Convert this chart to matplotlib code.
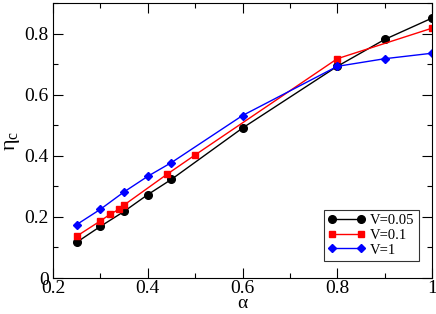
import matplotlib
matplotlib.use("Agg")
import matplotlib.pyplot as plt
from matplotlib.ticker import MultipleLocator

plt.rcParams['font.family'] = ['Liberation Serif', 'DejaVu Serif']
plt.rcParams['mathtext.fontset'] = 'custom'
plt.rcParams['mathtext.rm'] = 'Liberation Serif'
plt.rcParams['mathtext.it'] = 'Liberation Serif'

x_black = [0.25, 0.3, 0.35, 0.4, 0.45, 0.6, 0.8, 0.9, 1.0]
y_black = [0.117, 0.169, 0.218, 0.273, 0.323, 0.491, 0.693, 0.781, 0.851]

x_red = [0.25, 0.3, 0.32, 0.34, 0.35, 0.44, 0.5, 0.8, 1.0]
y_red = [0.137, 0.187, 0.208, 0.226, 0.239, 0.339, 0.403, 0.718, 0.818]

x_blue = [0.25, 0.3, 0.35, 0.4, 0.45, 0.6, 0.8, 0.9, 1.0]
y_blue = [0.175, 0.225, 0.282, 0.333, 0.378, 0.532, 0.693, 0.718, 0.736]

labels = ["V=0.05", "V=0.1", "V=1"]

fig = plt.figure(figsize=(4.36, 3.14), dpi=100)
ax = fig.add_axes([0.1216, 0.1146, 0.8692, 0.8754])

ax.plot(x_black, y_black, color='black', lw=1.0, marker='o', ms=5.5, label=labels[0])
ax.plot(x_red, y_red, color='#ff0000', lw=1.0, marker='s', ms=5, label=labels[1])
ax.plot(x_blue, y_blue, color='#0000ff', lw=1.0, marker='D', ms=4, label=labels[2])

ax.set_xlim(0.2, 1.0)
ax.set_ylim(0, 0.9)
ax.xaxis.set_minor_locator(MultipleLocator(0.1))
ax.yaxis.set_minor_locator(MultipleLocator(0.1))
ax.set_xticks([0.2, 0.4, 0.6, 0.8, 1.0])
ax.set_xticklabels(["0.2", "0.4", "0.6", "0.8", "1"])
ax.set_yticks([0, 0.2, 0.4, 0.6, 0.8])
ax.set_yticklabels(["0", "0.2", "0.4", "0.6", "0.8"])
ax.tick_params(which='both', direction='in', top=True, right=True, labelsize=14, width=0.8)
ax.tick_params(which='major', length=7, pad=3)
ax.tick_params(axis='x', which='major', pad=1.5)
ax.tick_params(which='minor', length=3.6)
for s in ax.spines.values():
    s.set_linewidth(0.8)

ax.set_xlabel(r"$\alpha$", fontsize=14, labelpad=-1.5)
ax.set_ylabel(r"$\eta_c$", fontsize=16, labelpad=2)

leg = ax.legend(loc='lower right', bbox_to_anchor=(0.966, 0.062), numpoints=2, fontsize=10.5,
                frameon=True, fancybox=False, edgecolor='black', borderpad=0.3,
                labelspacing=0.1, handlelength=2.6, handletextpad=0.3, borderaxespad=0.0)
leg.get_frame().set_linewidth(0.8)

fig.savefig("out.png", dpi=100)
